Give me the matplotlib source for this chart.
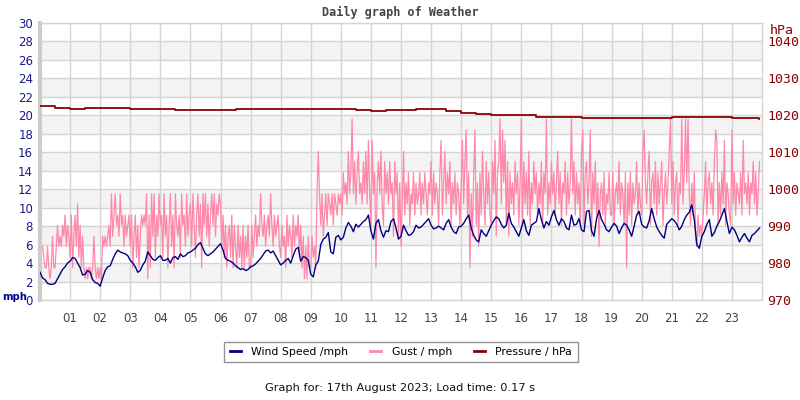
import numpy as np
import matplotlib
matplotlib.use("Agg")
import matplotlib.pyplot as plt
from matplotlib.lines import Line2D

# ---------------- data ----------------
# wind speed (mph), every 5 minutes from 00:00 (12 per hour)
wind_speed = [
    3.0, 2.4, 2.2, 1.8, 1.7, 1.7, 1.8, 2.3, 2.8, 3.3, 3.6, 4.0,
    4.2, 4.6, 4.5, 4.0, 3.5, 2.7, 2.8, 3.2, 3.0, 2.2, 1.9, 1.8,
    1.5, 2.4, 3.2, 3.6, 3.7, 4.4, 5.0, 5.4, 5.2, 5.1, 5.0, 4.8,
    4.3, 4.0, 3.6, 3.0, 3.2, 3.8, 4.2, 5.2, 4.8, 4.4, 4.3, 4.6,
    4.8, 4.3, 4.3, 4.5, 4.0, 4.6, 4.7, 4.4, 5.0, 4.7, 4.8, 5.1,
    5.2, 5.4, 5.6, 6.0, 6.2, 5.6, 5.0, 4.8, 5.0, 5.2, 5.5, 5.8,
    6.1, 5.4, 4.5, 4.3, 4.2, 4.0, 3.7, 3.5, 3.3, 3.4, 3.2, 3.3,
    3.6, 3.7, 3.9, 4.2, 4.5, 4.9, 5.3, 5.4, 5.1, 5.3, 4.8, 4.3,
    3.8, 4.0, 4.3, 4.5, 4.0, 4.8, 5.5, 5.7, 4.2, 4.7, 4.6, 4.3,
    2.8, 2.5, 3.8, 4.2, 6.0, 6.6, 6.8, 7.3, 5.2, 5.0, 6.8, 7.0,
    6.5, 6.8, 7.8, 8.4, 8.0, 7.4, 8.2, 7.9, 8.2, 8.5, 8.7, 9.2,
    7.5, 6.6, 8.3, 8.7, 7.5, 6.8, 7.5, 7.4, 8.5, 8.8, 7.8, 6.6,
    6.9, 8.1, 7.5, 7.0, 7.1, 7.4, 8.1, 7.8, 7.9, 8.2, 8.5, 8.8,
    8.1, 7.7, 7.8, 8.0, 7.8, 7.6, 8.3, 8.7, 7.9, 7.4, 7.2, 7.9,
    8.0, 8.3, 8.8, 9.2, 7.8, 7.0, 6.5, 6.3, 7.6, 7.2, 6.9, 7.5,
    8.1, 8.6, 9.0, 8.8, 8.2, 7.8, 8.1, 9.4, 8.3, 7.9, 7.4, 6.9,
    7.8, 8.7, 7.5, 7.0, 8.1, 8.3, 8.5, 9.9, 8.7, 7.8, 8.5, 8.1,
    9.0, 9.7, 8.7, 8.1, 8.8, 8.5, 7.8, 7.6, 9.2, 8.1, 8.2, 8.8,
    7.6, 7.4, 9.6, 9.7, 7.5, 6.9, 8.8, 9.7, 8.7, 8.2, 7.6, 7.4,
    7.9, 8.3, 8.0, 7.2, 7.8, 8.3, 8.1, 7.6, 6.9, 8.0, 9.2, 9.6,
    8.2, 7.9, 7.8, 8.6, 9.9, 8.8, 7.9, 7.4, 7.0, 6.7, 8.2, 8.5,
    8.8, 8.6, 8.2, 7.6, 8.0, 8.7, 9.2, 9.5, 10.3, 8.7, 6.0, 5.6,
    6.9, 7.4, 8.2, 8.7, 6.9, 7.3, 8.0, 8.5, 9.2, 9.9, 8.5, 7.2,
    7.9, 7.6, 7.0, 6.3, 6.8, 7.2, 6.7, 6.3, 7.0, 7.2, 7.5, 7.8,
]

# gust (mph), every 2.5 minutes from 00:00 (24 per hour)
gust = [
    5.8, 5.8, 5.8, 4.6, 3.5, 3.5, 5.8, 3.5, 2.3, 3.5, 6.9, 3.5, 3.5, 5.8, 8.1, 5.8, 6.9, 5.8, 8.1, 6.9, 9.2, 5.8, 8.1, 6.9,
    4.6, 9.2, 3.5, 6.9, 9.2, 5.8, 10.4, 4.6, 8.1, 3.5, 6.9, 3.5, 2.3, 3.5, 2.3, 3.5, 3.5, 2.3, 3.5, 6.9, 3.5, 2.3, 3.5, 2.3,
    3.5, 2.3, 6.9, 5.8, 6.9, 5.8, 6.9, 8.1, 5.8, 11.5, 6.9, 9.2, 11.5, 8.1, 9.2, 6.9, 11.5, 8.1, 9.2, 5.8, 9.2, 6.9, 8.1, 9.2,
    5.8, 9.2, 3.5, 6.9, 9.2, 4.6, 8.1, 3.5, 6.9, 9.2, 8.1, 9.2, 8.1, 11.5, 2.3, 9.2, 3.5, 11.5, 6.9, 11.5, 4.6, 9.2, 6.9, 11.5,
    8.1, 9.2, 4.6, 11.5, 6.9, 9.2, 3.5, 8.1, 11.5, 5.8, 9.2, 3.5, 11.5, 8.1, 6.9, 9.2, 4.6, 11.5, 8.1, 9.2, 5.8, 11.5, 6.9, 9.2,
    10.4, 5.8, 11.5, 8.1, 4.6, 9.2, 11.5, 6.9, 10.4, 3.5, 11.5, 8.1, 11.5, 6.9, 10.4, 5.8, 9.2, 11.5, 8.1, 11.5, 6.9, 10.4, 9.2, 11.5,
    10.4, 5.8, 9.2, 4.6, 8.1, 3.5, 6.9, 8.1, 4.6, 9.2, 3.5, 8.1, 5.8, 3.5, 8.1, 4.6, 6.9, 3.5, 8.1, 3.5, 6.9, 4.6, 8.1, 3.5,
    3.5, 8.1, 4.6, 6.9, 9.2, 5.8, 8.1, 6.9, 11.5, 8.1, 6.9, 9.2, 5.8, 8.1, 9.2, 6.9, 11.5, 8.1, 5.8, 9.2, 6.9, 8.1, 9.2, 5.8,
    4.6, 8.1, 5.8, 6.9, 3.5, 9.2, 5.8, 8.1, 6.9, 4.6, 9.2, 5.8, 8.1, 6.9, 9.2, 4.6, 8.1, 3.5, 6.9, 2.3, 5.8, 2.3, 6.9, 3.5,
    3.5, 6.9, 4.6, 5.8, 3.5, 11.5, 16.1, 11.5, 8.1, 11.5, 6.9, 9.2, 11.5, 8.1, 11.5, 10.4, 9.2, 11.5, 8.1, 11.5, 10.4, 9.2, 11.5, 10.4,
    11.5, 9.2, 13.8, 11.5, 12.7, 10.4, 16.1, 11.5, 13.8, 19.6, 11.5, 15.0, 10.4, 13.8, 16.1, 11.5, 12.7, 10.4, 15.0, 11.5, 16.1, 10.4, 17.3, 11.5,
    8.1, 17.3, 11.5, 13.8, 3.5, 12.7, 15.0, 11.5, 16.1, 10.4, 8.1, 15.0, 11.5, 13.8, 10.4, 15.0, 11.5, 12.7, 6.9, 15.0, 11.5, 13.8, 6.9, 12.7,
    5.8, 10.4, 16.1, 9.2, 12.7, 10.4, 13.8, 8.1, 11.5, 10.4, 13.8, 9.2, 12.7, 10.4, 11.5, 13.8, 9.2, 12.7, 10.4, 13.8, 11.5, 9.2, 12.7, 11.5,
    15.0, 9.2, 13.8, 10.4, 12.7, 11.5, 8.1, 13.8, 17.3, 9.2, 12.7, 16.1, 10.4, 13.8, 11.5, 15.0, 8.1, 12.7, 10.4, 13.8, 9.2, 12.7, 11.5, 8.1,
    12.7, 17.3, 10.4, 15.0, 18.4, 9.2, 13.8, 3.5, 11.5, 6.9, 13.8, 18.4, 8.1, 12.7, 5.8, 13.8, 9.2, 16.1, 11.5, 8.1, 15.0, 10.4, 13.8, 9.2,
    8.1, 15.0, 11.5, 17.3, 6.9, 13.8, 15.0, 19.6, 10.4, 18.4, 12.7, 17.3, 8.1, 15.0, 6.9, 13.8, 10.4, 12.7, 9.2, 15.0, 11.5, 13.8, 8.1, 12.7,
    19.6, 8.1, 15.0, 10.4, 13.8, 9.2, 16.1, 8.1, 12.7, 10.4, 15.0, 11.5, 13.8, 9.2, 12.7, 10.4, 15.0, 8.1, 13.8, 11.5, 19.6, 9.2, 12.7, 10.4,
    15.0, 11.5, 13.8, 9.2, 12.7, 16.1, 10.4, 13.8, 8.1, 12.7, 11.5, 15.0, 9.2, 13.8, 10.4, 12.7, 19.6, 11.5, 15.0, 9.2, 13.8, 10.4, 12.7, 8.1,
    16.1, 18.4, 8.1, 13.8, 15.0, 10.4, 12.7, 18.4, 6.9, 13.8, 10.4, 15.0, 9.2, 12.7, 5.8, 11.5, 12.7, 9.2, 13.8, 8.1, 11.5, 10.4, 13.8, 9.2,
    9.2, 13.8, 8.1, 11.5, 12.7, 10.4, 15.0, 9.2, 12.7, 11.5, 8.1, 13.8, 3.5, 12.7, 9.2, 13.8, 8.1, 12.7, 10.4, 11.5, 15.0, 9.2, 12.7, 10.4,
    9.2, 16.1, 18.4, 12.7, 10.4, 13.8, 16.1, 8.1, 12.7, 13.8, 10.4, 15.0, 9.2, 13.8, 10.4, 12.7, 15.0, 8.1, 11.5, 13.8, 10.4, 12.7, 16.1, 19.6,
    10.4, 15.0, 9.2, 12.7, 13.8, 8.1, 12.7, 11.5, 19.6, 10.4, 13.8, 19.6, 12.7, 19.6, 11.5, 8.1, 12.7, 9.2, 13.8, 6.9, 5.8, 9.2, 6.9, 8.1,
    6.9, 9.2, 11.5, 15.0, 9.2, 12.7, 13.8, 10.4, 12.7, 9.2, 15.0, 18.4, 17.3, 8.1, 12.7, 9.2, 13.8, 10.4, 17.3, 8.1, 12.7, 11.5, 9.2, 8.1,
    18.4, 10.4, 13.8, 9.2, 12.7, 11.5, 10.4, 13.8, 9.2, 17.3, 11.5, 12.7, 10.4, 13.8, 9.2, 12.7, 11.5, 15.0, 10.4, 13.8, 9.2, 11.5, 15.0,
]

# pressure (hPa), every 30 minutes, last reading at 23:54
pressure_hours = [i * 0.5 for i in range(48)] + [23.9]
pressure = [
    1022.4, 1022.1, 1021.8, 1022.1, 1022.1, 1022.1, 1021.8, 1021.8,
    1021.8, 1021.5, 1021.5, 1021.5, 1021.5, 1021.8, 1021.8, 1021.8,
    1021.8, 1021.8, 1021.8, 1021.8, 1021.8, 1021.5, 1021.3, 1021.5,
    1021.5, 1021.6, 1021.6, 1021.1, 1020.7, 1020.4, 1020.2, 1020.0,
    1020.0, 1019.6, 1019.6, 1019.6, 1019.4, 1019.4, 1019.4, 1019.4,
    1019.4, 1019.4, 1019.6, 1019.6, 1019.6, 1019.5, 1019.3, 1019.3,
    1018.9,
]

hour_labels = ["%02d" % h for h in range(1, 24)]
left_ticks = list(range(0, 31, 2))
right_ticks = list(range(970, 1041, 10))

wind_hours = [i / 12 for i in range(len(wind_speed))]
gust_hours = [i / 24 for i in range(len(gust))]

# ---------------- figure ----------------
fig = plt.figure(figsize=(8, 4), dpi=100)
ax = fig.add_axes([40 / 800, 100 / 400, 722 / 800, 277 / 400])
ax.set_xlim(0, 24)
ax.set_ylim(0, 30)

grid_c = "#d4d4d4"
for lo in range(2, 30, 4):
    ax.axhspan(lo, lo + 2, color="#f3f3f3", zorder=0, lw=0)
for y in left_ticks:
    ax.axhline(y, color=grid_c, lw=1, zorder=0.5)
for h in range(1, 24):
    ax.axvline(h, color=grid_c, lw=1, zorder=0.5)

ax.plot(gust_hours, gust, color="#ff88aa", lw=0.9, zorder=2)
ax.plot(wind_hours, wind_speed, color="#000080", lw=1, zorder=3)

for s in ["top", "right", "bottom"]:
    ax.spines[s].set_color(grid_c)
    ax.spines[s].set_linewidth(1)
ax.spines["left"].set_color("#cccccc")
ax.spines["left"].set_linewidth(3)

ax.set_yticks(left_ticks)
ax.set_yticklabels([str(t) for t in left_ticks], color="#1a1a8c", fontsize=8.5)
ax.set_xticks(range(1, 24))
ax.set_xticklabels(hour_labels, color="#444444", fontsize=8.5)
ax.tick_params(axis="both", length=0)
ax.tick_params(axis="y", pad=5)
ax.tick_params(axis="x", pad=9)

ax2 = ax.twinx()
ax2.set_ylim(970, 1045)
ax2.plot(pressure_hours, pressure, color="#8b0000", lw=1.3,
         drawstyle="steps-post", zorder=4)
ax2.set_yticks(right_ticks)
ax2.set_yticklabels([str(t) for t in right_ticks], color="#8b0000",
                    fontsize=9.5, family="DejaVu Sans Mono")
ax2.tick_params(axis="y", length=0, pad=4)
for s in ax2.spines.values():
    s.set_visible(False)

fig.text(0.5, 1 - 12 / 400, "Daily graph of Weather", ha="center", va="center",
         family="DejaVu Sans Mono", fontweight="bold", fontsize=8.5, color="#444444")
fig.text(2 / 800, 1 - 297 / 400, "mph", ha="left", va="center",
         fontweight="bold", fontsize=7.2, color="#00008b")
fig.text(782 / 800, 1 - 30 / 400, "hPa", ha="center", va="center",
         family="DejaVu Sans Mono", fontsize=9.5, color="#8b0000")

handles = [Line2D([], [], color="#000080", lw=2),
           Line2D([], [], color="#ff88aa", lw=2),
           Line2D([], [], color="#8b0000", lw=2)]
leg = fig.legend(handles, ["Wind Speed /mph", "Gust / mph", "Pressure / hPa"],
                 loc="center", bbox_to_anchor=(401 / 800, 1 - 352 / 400), ncol=3,
                 fontsize=7.8, frameon=True, fancybox=False, handlelength=1.0,
                 columnspacing=2.0, handletextpad=1.0, borderpad=0.5,
                 edgecolor="#777777")
leg.get_frame().set_linewidth(1)

fig.text(0.5, 1 - 388 / 400, "Graph for: 17th August 2023; Load time: 0.17 s",
         ha="center", va="center", fontsize=8.2, color="#111111")

fig.savefig("out.png", dpi=100)
